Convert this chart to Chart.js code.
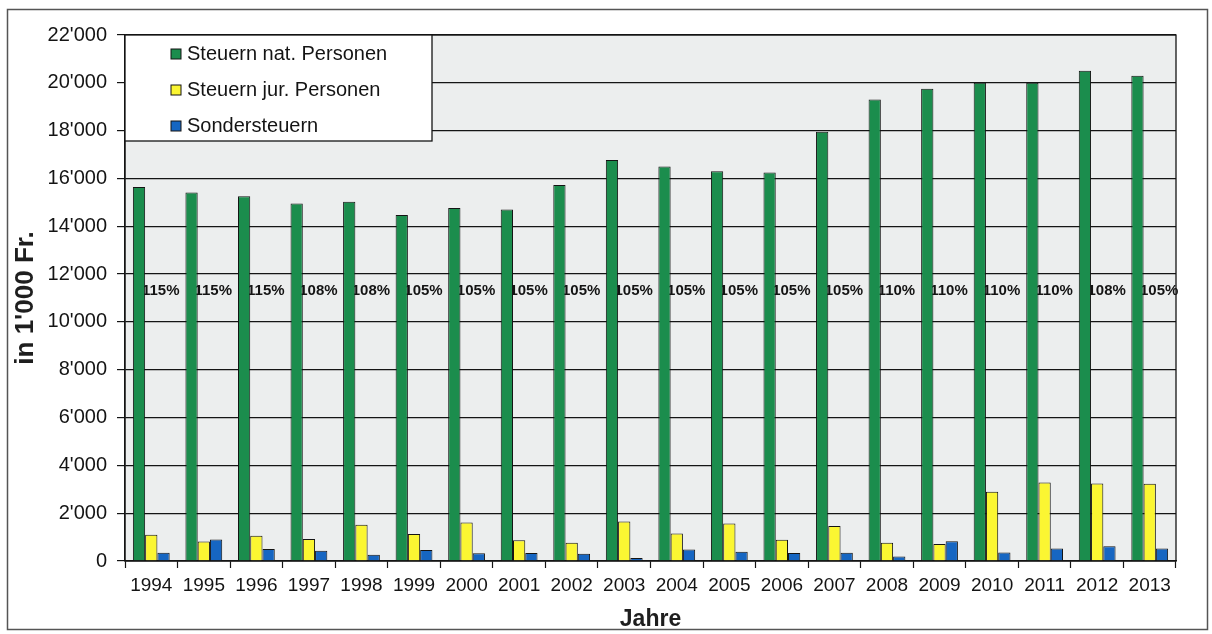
<!DOCTYPE html>
<html>
<head>
<meta charset="utf-8">
<script src="https://cdn.jsdelivr.net/npm/chart.js@4/dist/chart.umd.min.js"></script>
<style>
  html, body { margin: 0; padding: 0; background: #ffffff; }
  canvas { display: block; }
</style>
</head>
<body>
<canvas id="chart" width="1212" height="634"></canvas>
<script>
// Steuereinnahmen 1994–2013, in 1'000 Fr.
const years = ['1994','1995','1996','1997','1998','1999','2000','2001','2002','2003',
               '2004','2005','2006','2007','2008','2009','2010','2011','2012','2013'];
const steuernNatPersonen = [15640, 15410, 15260, 14950, 15030, 14470, 14760, 14700, 15730, 16770,
                            16500, 16300, 16250, 17950, 19300, 19750, 20000, 20000, 20500, 20300];
const steuernJurPersonen = [1100, 815, 1060, 925, 1515, 1130, 1615, 870, 760, 1655,
                            1150, 1570, 885, 1460, 760, 715, 2900, 3280, 3240, 3230];
const sondersteuern      = [345, 900, 500, 430, 260, 455, 320, 330, 300, 125,
                            480, 385, 330, 345, 190, 825, 360, 525, 620, 525];
// Steuerfuss in Prozent
const steuerfuss = [115, 115, 115, 108, 108, 105, 105, 105, 105, 105,
                    105, 105, 105, 105, 110, 110, 110, 110, 108, 105];
const seriesNames = ['Steuern nat. Personen', 'Steuern jur. Personen', 'Sondersteuern'];
const yMin = 0, yMax = 22000, yStep = 2000;

const FONT = "'Liberation Sans', Arial, Helvetica, sans-serif";
const INK = '#141414';
const GREEN = '#1b8d4d';
const YELLOW = '#fbf632';
const BLUE = '#1666c2';
const PLOT_BG = '#eceeee';
const STEUERFUSS_LEVEL = 11300;   // height of the percentage row on the value axis

function formatThousands(v) {
  return String(v).replace(/\B(?=(\d{3})+(?!\d))/g, "'");
}

// light grey plot background
const plotBackground = {
  id: 'plotBackground',
  beforeDraw(chart) {
    const {ctx, chartArea: a} = chart;
    ctx.save();
    ctx.fillStyle = PLOT_BG;
    ctx.fillRect(a.left, a.top, a.right - a.left, a.bottom - a.top);
    ctx.restore();
  }
};

// percentage row, drawn behind the bars
const steuerfussLabels = {
  id: 'steuerfussLabels',
  beforeDatasetsDraw(chart) {
    const {ctx, scales: {x, y}} = chart;
    const yPix = y.getPixelForValue(STEUERFUSS_LEVEL);
    const shift = x.width / years.length * 0.18;
    ctx.save();
    ctx.font = 'bold 15px ' + FONT;
    ctx.fillStyle = INK;
    ctx.textAlign = 'center';
    ctx.textBaseline = 'middle';
    steuerfuss.forEach((p, i) => {
      ctx.fillText(p + '%', x.getPixelForValue(i) + shift, yPix);
    });
    ctx.restore();
  }
};

// plot frame, legend box and outer frame
const frames = {
  id: 'frames',
  afterDraw(chart) {
    const {ctx, chartArea: a} = chart;
    ctx.save();
    ctx.strokeStyle = INK;
    ctx.lineWidth = 1.3;
    ctx.strokeRect(a.left, a.top, a.right - a.left, a.bottom - a.top);

    // legend
    const lx = a.left, ly = a.top, lw = 307, lh = 106;
    ctx.fillStyle = '#ffffff';
    ctx.fillRect(lx, ly, lw, lh);
    ctx.strokeRect(lx, ly, lw, lh);
    ctx.font = '20px ' + FONT;
    ctx.textBaseline = 'middle';
    ctx.textAlign = 'left';
    chart.data.datasets.forEach((ds, i) => {
      const cy = ly + 19 + i * 36;
      ctx.fillStyle = ds.backgroundColor;
      ctx.fillRect(lx + 46, cy - 5, 10, 10);
      ctx.lineWidth = 1;
      ctx.strokeStyle = INK;
      ctx.strokeRect(lx + 46, cy - 5, 10, 10);
      ctx.fillStyle = INK;
      ctx.fillText(ds.label, lx + 62, cy);
    });

    // outer frame
    ctx.strokeStyle = '#555555';
    ctx.lineWidth = 1.5;
    ctx.strokeRect(7.5, 9.5, 1200, 620);
    ctx.restore();
  }
};

new Chart(document.getElementById('chart'), {
  type: 'bar',
  data: {
    labels: years,
    datasets: [
      { label: seriesNames[0], data: steuernNatPersonen, backgroundColor: GREEN },
      { label: seriesNames[1], data: steuernJurPersonen, backgroundColor: YELLOW },
      { label: seriesNames[2], data: sondersteuern, backgroundColor: BLUE }
    ].map(d => Object.assign(d, {
      borderColor: INK,
      borderWidth: 1,
      categoryPercentage: 0.7,
      barPercentage: 1.0
    }))
  },
  options: {
    responsive: false,
    devicePixelRatio: 1,
    animation: false,
    layout: { padding: { top: 35, right: 36, bottom: 0, left: 0 } },
    plugins: {
      legend: { display: false },
      tooltip: { enabled: false }
    },
    scales: {
      x: {
        grid: {
          display: true,
          drawOnChartArea: false,
          drawTicks: true,
          tickLength: 7,
          tickColor: INK,
          tickWidth: 1.2,
          offset: true
        },
        border: { display: true, color: INK, width: 1.3 },
        ticks: {
          color: INK,
          font: { family: FONT, size: 19 },
          padding: 6,
          maxRotation: 0,
          autoSkip: false
        },
        title: {
          display: true,
          text: 'Jahre',
          color: '#1e1e1e',
          font: { family: FONT, size: 23, weight: 'bold' },
          padding: { top: 0, bottom: 1 }
        },
        afterFit(scale) { scale.height = 73; }
      },
      y: {
        min: yMin,
        max: yMax,
        grid: {
          color: INK,
          lineWidth: 1.2,
          drawTicks: true,
          tickLength: 8,
          tickColor: INK
        },
        border: { display: true, color: INK, width: 1.3 },
        ticks: {
          stepSize: yStep,
          color: INK,
          font: { family: FONT, size: 20 },
          padding: 10,
          callback: v => formatThousands(v)
        },
        title: {
          display: true,
          text: "in 1'000 Fr.",
          color: '#1e1e1e',
          font: { family: FONT, size: 26, weight: 'bold' },
          padding: { top: 10, bottom: 0 }
        },
        afterFit(scale) { scale.width = 125; }
      }
    }
  },
  plugins: [plotBackground, steuerfussLabels, frames]
});
</script>
</body>
</html>
